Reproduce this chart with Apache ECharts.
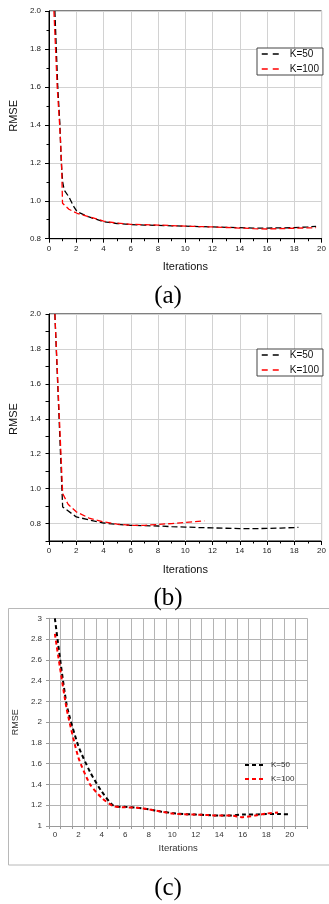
<!DOCTYPE html>
<html><head><meta charset="utf-8">
<script src="https://cdn.jsdelivr.net/npm/echarts@6/dist/echarts.min.js"></script>
<style>html,body{margin:0;padding:0;background:#fff}#c{width:329px;height:904px}</style>
</head><body><div id="c"></div>
<script>
// ---- data ----
const seriesNames = ['K=50', 'K=100'];
const captions = ['(a)', '(b)', '(c)'];

// panel (a): [iteration, RMSE]
const k50A = [[0.43,2.0],[0.64,1.6],[0.8,1.4],[0.9,1.2],[1.0,1.1],[1.11,1.057],[1.46,1.02],[1.82,0.969],[2.06,0.942],[2.88,0.916],[4,0.89],[5,0.88],[6,0.874],[7,0.872],[8,0.870],[9,0.868],[10,0.866],[11,0.864],[12,0.862],[13,0.860],[14,0.858],[15,0.856],[16,0.856],[17,0.857],[18,0.858],[19,0.862],[19.6,0.865]];
const k100A = [[0.36,2.0],[0.6,1.6],[0.78,1.4],[0.92,1.2],[0.99,0.987],[1.46,0.955],[2.06,0.934],[3.36,0.907],[4,0.893],[5,0.882],[6,0.876],[7,0.874],[8,0.872],[9,0.869],[10,0.866],[11,0.864],[12,0.862],[13,0.859],[14,0.856],[15,0.853],[16,0.851],[17,0.853],[18,0.855],[19,0.857],[19.6,0.858]];

// panel (b): [iteration, RMSE]
const k50B = [[0.43,2.0],[1.0,0.895],[2,0.838],[3,0.82],[4,0.803],[5,0.795],[6,0.79],[7,0.788],[8,0.786],[9,0.782],[10,0.78],[11,0.777],[12,0.775],[13,0.773],[14,0.771],[15,0.771],[16,0.772],[17,0.774],[18.3,0.778]];
const k100B = [[0.43,2.0],[1.0,0.972],[1.4,0.91],[2,0.867],[3,0.829],[4,0.81],[5,0.797],[6,0.79],[7,0.79],[8,0.795],[9,0.8],[10,0.806],[11.4,0.815]];

// panel (c): category iterations
const cIterations = ['0','1','2','3','4','5','6','7','8','9','10','11','12','13','14','15','16','17','18','19','20','21'];
const k50C = [3.0,2.17,1.77,1.52,1.33,1.195,1.185,1.175,1.16,1.14,1.125,1.115,1.11,1.105,1.10,1.10,1.11,1.11,1.115,1.115,1.113];
const k100C = [2.85,2.13,1.66,1.40,1.27,1.19,1.18,1.175,1.16,1.14,1.12,1.113,1.11,1.105,1.10,1.10,1.085,1.10,1.12,1.13];

// ---- chart ----
const chart = echarts.init(document.getElementById('c'), null, {renderer: 'canvas'});
const SANS = '"Liberation Sans", Arial, sans-serif';
const SERIF = '"Liberation Serif", "Times New Roman", serif';
const GRIDC = '#d2d2d2';
const HIDDEN_SYMBOL = {color: 'rgba(0,0,0,0)', borderColor: 'rgba(0,0,0,0)', borderWidth: 0, opacity: 0};

function originX(gi) {
  return {
    gridIndex: gi, type: 'value', min: 0, max: 20, interval: 2,
    axisLine: {lineStyle: {color: '#000', width: 1}},
    axisTick: {length: 4, lineStyle: {color: '#000'}},
    minorTick: {show: true, splitNumber: 2, length: 2.5, lineStyle: {color: '#000'}},
    splitLine: {show: true, lineStyle: {color: GRIDC}},
    axisLabel: {fontSize: 8, color: '#222', margin: 6, fontFamily: SANS},
    name: 'Iterations', nameLocation: 'middle', nameGap: 23,
    nameTextStyle: {fontSize: 11, color: '#111', fontFamily: SANS}
  };
}

function originLegend(top) {
  return {
    orient: 'vertical', left: 257, top: top, itemWidth: 17, itemHeight: 10, itemGap: 5,
    padding: [1, 4, 1, 4], borderColor: '#444', borderWidth: 1, backgroundColor: '#fff',
    textStyle: {fontSize: 10, color: '#111', fontFamily: SANS, padding: [0, 0, 0, 6]},
    data: [
      {name: seriesNames[0], itemStyle: HIDDEN_SYMBOL, lineStyle: {color: '#000', width: 1.5, type: [6, 5]}},
      {name: seriesNames[1], itemStyle: HIDDEN_SYMBOL, lineStyle: {color: '#f00', width: 1.5, type: [6, 5]}}
    ]
  };
}

const option = {
  animation: false,
  backgroundColor: '#fff',
  grid: [
    {left: 42.7, top: 11, width: 281.6, height: 227.7, show: true, borderColor: '#000', borderWidth: 1, backgroundColor: 'transparent'},
    {left: 43.3, top: 314, width: 280.7, height: 227, show: true, borderColor: '#000', borderWidth: 1, backgroundColor: 'transparent'},
    {left: 49, top: 618.3, width: 258.3, height: 207.7, show: false}
  ],
  xAxis: [
    originX(0),
    originX(1),
    {
      gridIndex: 2, type: 'category', data: cIterations, boundaryGap: true,
      axisLine: {lineStyle: {color: '#9a9a9a'}},
      axisTick: {show: true, interval: 0, length: 3, lineStyle: {color: '#9a9a9a'}},
      splitLine: {show: true, interval: 0, lineStyle: {color: '#b4b4b4'}},
      axisLabel: {interval: 1, fontSize: 8, color: '#333', margin: 5, fontFamily: SANS},
      name: 'Iterations', nameLocation: 'middle', nameGap: 17,
      nameTextStyle: {fontSize: 9.5, color: '#333', fontFamily: SANS}
    }
  ],
  yAxis: [
    {
      gridIndex: 0, type: 'value', min: 0.8, max: 2.0, interval: 0.2,
      axisLine: {show: true, lineStyle: {color: '#000'}},
      axisTick: {show: true, length: 4, lineStyle: {color: '#000'}},
      minorTick: {show: true, splitNumber: 2, length: 2.5, lineStyle: {color: '#000'}},
      splitLine: {show: true, lineStyle: {color: GRIDC}},
      axisLabel: {fontSize: 8, color: '#222', margin: 8, fontFamily: SANS, formatter: v => v.toFixed(1)},
      name: 'RMSE', nameLocation: 'middle', nameGap: 22,
      nameTextStyle: {fontSize: 11, color: '#111', fontFamily: SANS, padding: [0, 0, 0, 18]}
    },
    {
      gridIndex: 1, type: 'value', min: 0.7, max: 2.0, interval: 0.1,
      axisLine: {show: true, lineStyle: {color: '#000'}},
      axisTick: {show: true, length: 3.5, lineStyle: {color: '#000'}},
      splitLine: {show: true, lineStyle: {color: ['rgba(0,0,0,0)', GRIDC]}},
      axisLabel: {fontSize: 8, color: '#222', margin: 8, fontFamily: SANS,
        formatter: v => (Math.round(v * 10) % 2 === 0 ? v.toFixed(1) : '')},
      name: 'RMSE', nameLocation: 'middle', nameGap: 22,
      nameTextStyle: {fontSize: 11, color: '#111', fontFamily: SANS, padding: [0, 0, 0, 17]}
    },
    {
      gridIndex: 2, type: 'value', min: 1, max: 3, interval: 0.2,
      axisLine: {show: true, lineStyle: {color: '#9a9a9a'}},
      axisTick: {show: true, length: 3, lineStyle: {color: '#9a9a9a'}},
      splitLine: {show: true, lineStyle: {color: '#b4b4b4'}},
      axisLabel: {fontSize: 8, color: '#333', margin: 7, fontFamily: SANS},
      name: 'RMSE', nameLocation: 'middle', nameGap: 22,
      nameTextStyle: {fontSize: 9, color: '#333', fontFamily: SANS}
    }
  ],
  legend: [
    originLegend(48),
    originLegend(349),
    {
      orient: 'vertical', left: 244, top: 761, itemWidth: 21, itemHeight: 8, itemGap: 6,
      padding: 0,
      textStyle: {fontSize: 8, color: '#333', fontFamily: SANS},
      data: [
        {name: seriesNames[0], itemStyle: HIDDEN_SYMBOL, lineStyle: {color: '#000', width: 2, type: [4, 3]}},
        {name: seriesNames[1], itemStyle: HIDDEN_SYMBOL, lineStyle: {color: '#f00', width: 2, type: [4, 3]}}
      ]
    }
  ],
  series: [
    {name: seriesNames[0], type: 'line', xAxisIndex: 0, yAxisIndex: 0, data: k50A, symbol: 'none',
      lineStyle: {color: '#000', width: 1.3, type: [6, 3]}, itemStyle: {color: '#000'}},
    {name: seriesNames[1], type: 'line', xAxisIndex: 0, yAxisIndex: 0, data: k100A, symbol: 'none',
      lineStyle: {color: '#f00', width: 1.3, type: [6, 3]}, itemStyle: {color: '#f00'}},
    {name: seriesNames[0], type: 'line', xAxisIndex: 1, yAxisIndex: 1, data: k50B, symbol: 'none',
      lineStyle: {color: '#000', width: 1.3, type: [6, 3]}, itemStyle: {color: '#000'}},
    {name: seriesNames[1], type: 'line', xAxisIndex: 1, yAxisIndex: 1, data: k100B, symbol: 'none',
      lineStyle: {color: '#f00', width: 1.3, type: [6, 3]}, itemStyle: {color: '#f00'}},
    {name: seriesNames[0], type: 'line', xAxisIndex: 2, yAxisIndex: 2, data: k50C, symbol: 'none', smooth: 0.2,
      lineStyle: {color: '#000', width: 2, type: [4, 3]}, itemStyle: {color: '#000'}},
    {name: seriesNames[1], type: 'line', xAxisIndex: 2, yAxisIndex: 2, data: k100C, symbol: 'none', smooth: 0.2,
      lineStyle: {color: '#f00', width: 2, type: [4, 3]}, itemStyle: {color: '#f00'}}
  ],
  graphic: [
    {type: 'rect', z: -1, silent: true, shape: {x: 8.5, y: 608.5, width: 330, height: 256.5},
      style: {fill: 'none', stroke: '#b8b8b8', lineWidth: 1}},
    {type: 'text', x: 168, y: 296, style: {text: captions[0], align: 'center', verticalAlign: 'middle', fontSize: 25, fontFamily: SERIF, fill: '#000'}},
    {type: 'text', x: 168, y: 598, style: {text: captions[1], align: 'center', verticalAlign: 'middle', fontSize: 25, fontFamily: SERIF, fill: '#000'}},
    {type: 'text', x: 168, y: 888, style: {text: captions[2], align: 'center', verticalAlign: 'middle', fontSize: 25, fontFamily: SERIF, fill: '#000'}}
  ]
};
chart.setOption(option);
</script>
</body></html>
